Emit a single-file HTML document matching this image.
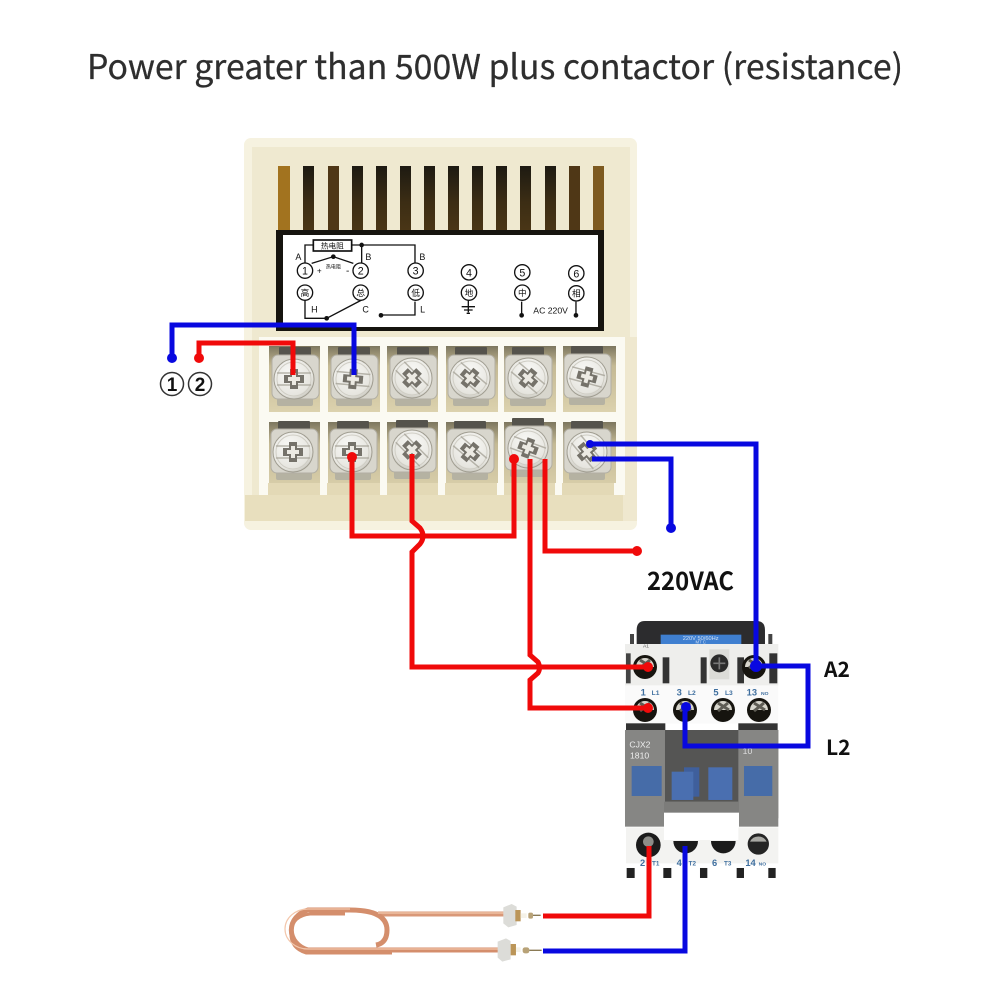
<!DOCTYPE html>
<html><head><meta charset="utf-8"><style>
html,body{margin:0;padding:0;background:#fff}
svg{display:block}
text{font-family:"Liberation Sans","Noto Sans CJK SC",sans-serif}
.n{font-family:"Noto Sans CJK SC","Liberation Sans",sans-serif}
</style></head><body>
<svg width="1001" height="1001" viewBox="0 0 1001 1001" xmlns="http://www.w3.org/2000/svg">
<defs>
<linearGradient id="slot" x1="0" y1="0" x2="0" y2="1"><stop offset="0" stop-color="#1d1a12"/><stop offset=".5" stop-color="#3a2c14"/><stop offset="1" stop-color="#4c3716"/></linearGradient>
<linearGradient id="cell" x1="0" y1="0" x2="0" y2="1"><stop offset="0" stop-color="#7d775f"/><stop offset=".3" stop-color="#c4b994"/><stop offset="1" stop-color="#dcd2ae"/></linearGradient>
<radialGradient id="metal" cx=".4" cy=".35" r=".75"><stop offset="0" stop-color="#f8f8f5"/><stop offset=".75" stop-color="#e6e5df"/><stop offset="1" stop-color="#b9b7ad"/></radialGradient>
<g id="head">
<circle r="20" fill="url(#metal)" stroke="#a09d91" stroke-width="1"/>
<circle r="17" fill="none" stroke="#cfcdc4" stroke-width="1"/>
<path d="M-17-6 L17-6 M-17 6 L17 6" stroke="#a8a59a" stroke-width="1.5" opacity=".8"/>
<path d="M-4-10 H4 V-4 H10 V4 H4 V10 H-4 V4 H-10 V-4 H-4Z" fill="#75726a"/>
<path d="M-2-6 H2 V-2 H6 V2 H2 V6 H-2 V2 H-6 V-2 H-2Z" fill="#eceae3"/>
</g>
<g id="screwbase">
<rect x="-16" y="-31" width="32" height="12" rx="1" fill="#55534c"/>
<rect x="-18" y="16" width="36" height="12" rx="2" fill="#b5b2a2"/>
<rect x="-23" y="-23" width="47" height="44" rx="6" fill="#d8d6cd" stroke="#b2afa4" stroke-width="1"/>
</g>
<g id="cs"><circle r="12" fill="#16140f"/><path d="M-9 0 A9 9 0 0 1 9 0Z" fill="#d7d5cc"/><path d="M-5-7 L6 0 M5-7 L-5 1" stroke="#5f5d55" stroke-width="3"/></g>
</defs>

<text class="n" x="87" y="79" font-size="34" fill="#2e2e2e" stroke="#2e2e2e" stroke-width=".25" textLength="816" lengthAdjust="spacingAndGlyphs">Power greater than 500W plus contactor (resistance)</text>

<!-- controller body -->
<rect x="244" y="138" width="393" height="392" rx="7" fill="#f6f2e0"/>
<rect x="252" y="147" width="378" height="374" fill="#efe9d0"/>
<g fill="url(#slot)">
<rect x="278" y="166" width="12" height="68" fill="#a2731f"/>
<rect x="303" y="166" width="11" height="68"/><rect x="328" y="166" width="11" height="68" fill="#4f3716"/>
<rect x="352" y="166" width="11" height="68"/><rect x="376" y="166" width="11" height="68"/>
<rect x="400" y="166" width="11" height="68"/><rect x="424" y="166" width="11" height="68"/>
<rect x="448" y="166" width="11" height="68"/><rect x="472" y="166" width="11" height="68"/>
<rect x="496" y="166" width="11" height="68"/><rect x="520" y="166" width="11" height="68"/>
<rect x="545" y="166" width="11" height="68"/><rect x="569" y="166" width="11" height="68" fill="#4f3716"/>
<rect x="593" y="166" width="11" height="68" fill="#7d5a20"/>
</g>
<!-- label -->
<rect x="276" y="230" width="328" height="101" fill="#16140f"/>
<rect x="283" y="235" width="315" height="92" fill="#fff"/>
<g transform="translate(270 225) scale(.3333)" fill="none" stroke="#111" stroke-width="4">
<rect x="130" y="45" width="115" height="33" fill="#fff" stroke-width="5"/>
<path d="M130 60H105V115M245 60H435V115M275 60V115M125 115L190 95L250 115M105 225V280H170L275 225M435 230V270H333M595 225V262M575 245h40M582 255h26M590 265h10M755 230V270M918 230V270"/>
<g fill="#fff" stroke-width="4">
<circle cx="105" cy="137" r="23"/><circle cx="272" cy="137" r="23"/><circle cx="437" cy="137" r="23"/><circle cx="597" cy="142" r="23"/><circle cx="757" cy="142" r="23"/><circle cx="919" cy="145" r="23"/>
<circle cx="105" cy="203" r="23"/><circle cx="272" cy="203" r="23"/><circle cx="437" cy="203" r="23"/><circle cx="597" cy="203" r="23"/><circle cx="757" cy="203" r="23"/><circle cx="919" cy="205" r="23"/>
</g>
<g fill="#111" stroke="none"><circle cx="190" cy="95" r="7"/><circle cx="275" cy="60" r="7"/><circle cx="170" cy="280" r="7"/><circle cx="333" cy="271" r="7"/><circle cx="755" cy="271" r="7"/><circle cx="918" cy="271" r="7"/></g>
<g fill="#111" stroke="none" text-anchor="middle" font-size="32">
<text x="105" y="149">1</text><text x="272" y="149">2</text><text x="437" y="149">3</text><text x="597" y="154">4</text><text x="757" y="154">5</text><text x="919" y="157">6</text>
<g font-size="26"><text x="105" y="213">高</text><text x="272" y="213">总</text><text x="437" y="213">低</text><text x="597" y="213">地</text><text x="757" y="213">中</text><text x="919" y="215">相</text></g>
<text x="187" y="70" font-size="23">热电阻</text><text x="190" y="131" font-size="15">热电阻</text>
<g font-size="27"><text x="85" y="105">A</text><text x="295" y="105">B</text><text x="457" y="105">B</text><text x="133" y="263">H</text><text x="287" y="263">C</text><text x="458" y="263">L</text></g>
<text x="148" y="145" font-size="24">+</text><text x="233" y="147" font-size="30">-</text>
<text x="842" y="266" font-size="26">AC 220V</text>
</g>
</g>
<!-- terminal block -->
<rect x="245" y="495" width="392" height="26" fill="#e8dfbe"/>
<rect x="623" y="337" width="14" height="184" fill="#efe8cf"/>
<rect x="252" y="521" width="378" height="9" fill="#f6f2e0"/>
<rect x="259" y="337" width="366" height="158" fill="#fbfaf2"/>
<g fill="url(#cell)">
<rect x="269" y="346" width="51" height="66"/><rect x="328" y="346" width="52" height="66"/><rect x="387" y="346" width="51" height="66"/><rect x="446" y="346" width="52" height="66"/><rect x="504" y="346" width="52" height="66"/><rect x="563" y="346" width="53" height="66"/>
<rect x="269" y="422" width="51" height="73"/><rect x="328" y="422" width="52" height="73"/><rect x="387" y="422" width="51" height="73"/><rect x="446" y="422" width="52" height="73"/><rect x="504" y="422" width="52" height="73"/><rect x="563" y="422" width="53" height="73"/>
</g>
<rect x="268" y="483" width="350" height="12" fill="#e3d9b6"/>
<g fill="#fbfaf2"><rect x="259" y="483" width="9" height="12"/><rect x="320" y="483" width="7" height="12"/><rect x="380" y="483" width="7" height="12"/><rect x="438" y="483" width="7" height="12"/><rect x="497" y="483" width="7" height="12"/><rect x="555" y="483" width="7" height="12"/><rect x="614" y="483" width="10" height="12"/></g>

<use href="#screwbase" x="295" y="378"/><use href="#screwbase" x="354" y="378"/><use href="#screwbase" x="413" y="378"/><use href="#screwbase" x="471" y="378"/><use href="#screwbase" x="528" y="378"/><use href="#screwbase" x="587" y="377"/>
<use href="#screwbase" x="294" y="452"/><use href="#screwbase" x="353" y="452"/><use href="#screwbase" x="412" y="451"/><use href="#screwbase" x="470" y="452"/><use href="#screwbase" x="528" y="449"/><use href="#screwbase" x="587" y="452"/>
<use href="#head" transform="translate(294 379)"/><use href="#head" transform="translate(353 379) rotate(5)"/><use href="#head" transform="translate(412 378) rotate(45)"/><use href="#head" transform="translate(470 378) rotate(40)"/><use href="#head" transform="translate(528 378) rotate(40)"/><use href="#head" transform="translate(587 377) rotate(15)"/>
<use href="#head" transform="translate(293 452)"/><use href="#head" transform="translate(352 452)"/><use href="#head" transform="translate(412 450) rotate(45)"/><use href="#head" transform="translate(470 452) rotate(40)"/><use href="#head" transform="translate(528 448) rotate(20)"/><use href="#head" transform="translate(587 452) rotate(50)"/>

<!-- contactor -->
<g transform="translate(610 610) scale(.3333)">
<path d="M80 60Q80 33 105 33H440Q465 33 465 60V110H80Z" fill="#2c2c2e"/>
<rect x="60" y="72" width="12" height="60" fill="#444"/><rect x="475" y="72" width="12" height="60" fill="#444"/>
<rect x="152" y="74" width="242" height="30" fill="#3f7fd0"/>
<text x="272" y="90" font-size="17" fill="#cfe0f5" text-anchor="middle">220V  50/60Hz</text>
<text x="272" y="101" font-size="13" fill="#cfe0f5" text-anchor="middle">M7    C</text>
<rect x="45" y="102" width="460" height="125" fill="#eeeeec"/>
<rect x="45" y="226" width="460" height="115" fill="#fafafa"/>
<rect x="158" y="142" width="20" height="78" fill="#333"/><rect x="272" y="142" width="18" height="78" fill="#333"/><rect x="382" y="142" width="20" height="78" fill="#333"/><rect x="478" y="130" width="24" height="90" fill="#333"/><rect x="48" y="130" width="14" height="90" fill="#444"/>
<rect x="298" y="118" width="60" height="90" fill="#dcdcd8"/>
<circle cx="328" cy="160" r="27" fill="#2b2b2b"/><path d="M310 160h36M328 142v36" stroke="#777" stroke-width="5"/>
<g transform="scale(3)"><use href="#cs" x="35" y="57"/><use href="#cs" x="144" y="57"/><use href="#cs" x="35" y="100"/><use href="#cs" x="75" y="100"/><use href="#cs" x="113" y="100"/><use href="#cs" x="149" y="100"/></g>
<text x="108" y="112" font-size="15" fill="#555" text-anchor="middle">A1</text>
<g fill="#3f6f9f" font-weight="bold"><text x="92" y="256" font-size="28">1</text><text x="125" y="255" font-size="20">L1</text><text x="200" y="256" font-size="28">3</text><text x="234" y="255" font-size="20">L2</text><text x="310" y="256" font-size="28">5</text><text x="345" y="255" font-size="20">L3</text><text x="410" y="256" font-size="28">13</text><text x="453" y="255" font-size="15">NO</text></g>
<rect x="48" y="340" width="118" height="30" fill="#333"/><rect x="385" y="340" width="118" height="30" fill="#333"/>
</g>
<g transform="translate(610 740) scale(.3333)">
<rect x="45" y="-30" width="460" height="265" fill="#7a7a78"/>
<rect x="45" y="-30" width="120" height="290" fill="#868684"/>
<rect x="385" y="-30" width="120" height="290" fill="#868684"/>
<rect x="165" y="-30" width="220" height="215" fill="#555554"/>
<rect x="162" y="185" width="225" height="33" fill="#7c7c7a"/>
<rect x="162" y="218" width="225" height="80" fill="#fff"/>
<text x="58" y="22" font-size="26" fill="#eee">CJX2</text><text x="60" y="55" font-size="26" fill="#eee">1810</text><text x="398" y="42" font-size="26" fill="#ddd">10</text>
<rect x="65" y="78" width="90" height="90" fill="#466ca8"/><rect x="402" y="78" width="85" height="90" fill="#466ca8"/>
<rect x="222" y="82" width="46" height="88" fill="#3f5f9c"/><rect x="185" y="95" width="65" height="85" fill="#4a6fb0"/><rect x="295" y="82" width="72" height="98" fill="#4a6fb0"/>
<path d="M48 262H162V300H385V262H505V370H48Z" fill="#f3f3f1"/>
<circle cx="115" cy="315" r="37" fill="#1b1b1b"/><circle cx="115" cy="305" r="16" fill="#8d8d88"/>
<path d="M190 303H264A37 37 0 0 1 190 303Z" fill="#1b1b1b"/><path d="M303 303H377A37 37 0 0 1 303 303Z" fill="#1b1b1b"/>
<circle cx="445" cy="312" r="32" fill="#252525"/><path d="M420 305A28 28 0 0 1 470 305Z" fill="#a9a9a4"/>
<g fill="#3f6f9f" font-weight="bold"><text x="90" y="378" font-size="28">2</text><text x="126" y="377" font-size="19">T1</text><text x="200" y="378" font-size="28">4</text><text x="236" y="377" font-size="19">T2</text><text x="306" y="378" font-size="28">6</text><text x="342" y="377" font-size="19">T3</text><text x="406" y="378" font-size="28">14</text><text x="446" y="377" font-size="15">NO</text></g>
<g fill="#222"><rect x="50" y="384" width="24" height="30"/><rect x="160" y="384" width="24" height="30"/><rect x="270" y="384" width="22" height="30"/><rect x="380" y="384" width="22" height="30"/><rect x="475" y="384" width="22" height="30"/></g>
</g>

<!-- heater -->
<g fill="none" stroke-linecap="butt">
<path d="M504 914H378" stroke="#d99878" stroke-width="5"/>
<path d="M499 950H308A24 21 0 0 1 308 910H350Q387 910 387 930Q387 943 376 945" stroke="#d48e6c" stroke-width="5"/>
<path d="M392 953H306Q290 948 291 932Q292 916 310 914H345" stroke="#d48e6c" stroke-width="3"/>
<path d="M504 913H378M499 949H308A23 20 0 0 1 308 909H350" stroke="#f3c7ac" stroke-width="1.2"/>
</g>
<g transform="translate(270 890) scale(.3333)">
<path d="M700 52L725 42L740 50V105L715 112L700 100Z" fill="#dcdcd8"/><rect x="736" y="60" width="16" height="34" fill="#bb9558"/><path d="M752 70H770V84H752Z" fill="#f5f2e8"/><rect x="775" y="68" width="14" height="18" rx="5" fill="#b8a277"/>
<path d="M683 155L708 145L722 153V208L697 215L683 203Z" fill="#dcdcd8"/><rect x="722" y="162" width="16" height="34" fill="#bb9558"/><path d="M738 172H752V186H738Z" fill="#f5f2e8"/><rect x="758" y="172" width="20" height="18" rx="7" fill="#b8a277"/>
<path d="M789 76H812M778 181H815" stroke="#8a7a55" stroke-width="4"/>
</g>

<!-- wires -->
<g fill="none" stroke-width="5">
<path d="M172 357V325H354V375" stroke="#0808e0"/>
<path d="M199 357V343H293V375" stroke="#f00a0a"/>
<path d="M352 456V536H514V459" stroke="#f00a0a"/>
<path d="M412 454V521L420 528Q426 536 420 544L412 552V667H648" stroke="#f00a0a"/>
<path d="M530 459V655L538 662Q541 668 538 673L530 680V708H648" stroke="#f00a0a"/>
<path d="M545 459V551H637" stroke="#f00a0a"/>
<path d="M590 444H756V666" stroke="#0808e0"/>
<path d="M592 459H671V527" stroke="#0808e0"/>
<path d="M756 666H808V746H685V707" stroke="#0808e0"/>
<path d="M649 846V916H543" stroke="#f00a0a"/>
<path d="M685 846V951H543" stroke="#0808e0"/>
</g>
<g fill="#0808e0"><circle cx="172" cy="358" r="5"/><circle cx="671" cy="528" r="5"/><circle cx="590" cy="444" r="4"/><circle cx="756" cy="666" r="6"/><circle cx="686" cy="707" r="5"/></g>
<g fill="#f00a0a"><circle cx="199" cy="358" r="5"/><circle cx="352" cy="457" r="5"/><circle cx="514" cy="459" r="5"/><circle cx="637" cy="551" r="5"/><circle cx="648" cy="667" r="5"/><circle cx="648" cy="708" r="5"/></g>

<!-- labels -->
<g fill="none" stroke="#333" stroke-width="1.5"><circle cx="172" cy="384" r="11.5"/><circle cx="200" cy="384" r="11.5"/></g>
<g text-anchor="middle" font-size="19" font-weight="bold" fill="#111"><text x="172" y="391">1</text><text x="200" y="391">2</text></g>
<g class="n" font-weight="bold" fill="#111">
<text class="n" x="647" y="590" font-size="25" font-weight="bold" textLength="87" lengthAdjust="spacingAndGlyphs">220VAC</text>
<text class="n" x="824" y="677" font-size="21" font-weight="bold">A2</text>
<text class="n" x="826" y="755" font-size="21" font-weight="bold">L2</text>
</g>
</svg>
</body></html>
